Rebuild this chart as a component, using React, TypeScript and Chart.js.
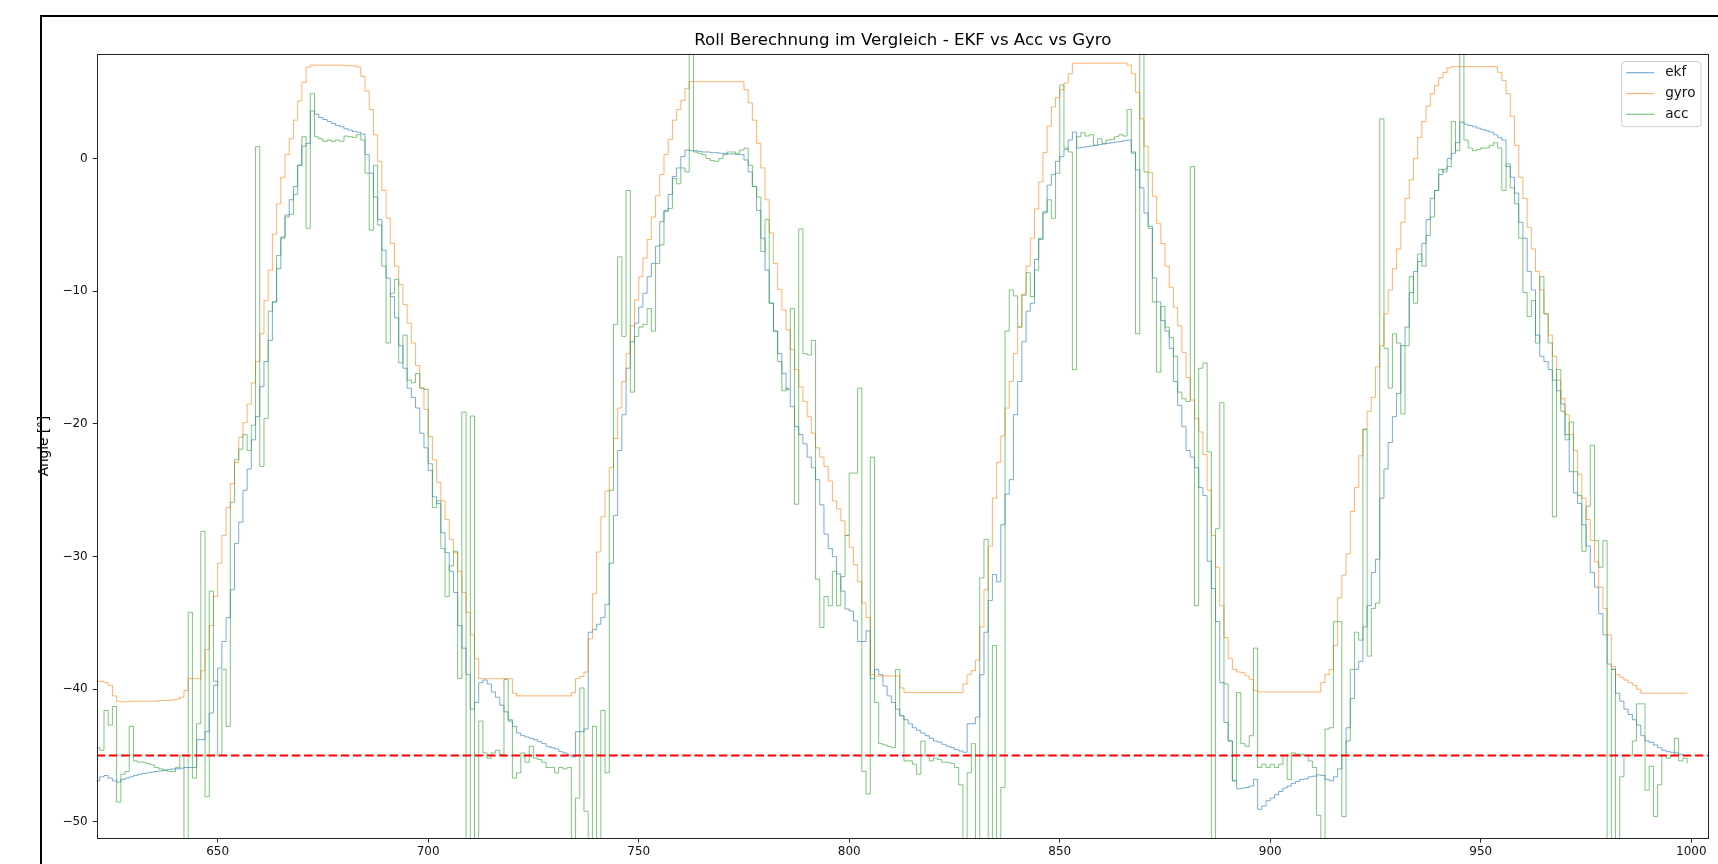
import React, { useEffect, useRef } from "react";
import { Chart, registerables } from "chart.js";

Chart.register(...registerables);

const START_INDEX = 621;
const X_MIN = 621.27;
const X_MAX = 1004.2;
const Y_MIN = -51.25;
const Y_MAX = 7.91;
const THRESHOLD = -45;
const X_TICKS = [650, 700, 750, 800, 850, 900, 950, 1000];
const Y_TICKS = [-50, -40, -30, -20, -10, 0];
const TITLE = "Roll Berechnung im Vergleich - EKF vs Acc vs Gyro";
const Y_LABEL = "Angle [°]";
const SERIES_LABELS = ["ekf", "gyro", "acc"];
const SERIES_COLORS = ["rgba(31,119,180,0.6)", "rgba(255,127,14,0.6)", "rgba(44,160,44,0.6)"];

const EKF = [
  -46.9,-46.6,-46.5,-46.7,-46.9,-47.0,-46.8,-46.7,-46.6,-46.5,
  -46.4,-46.35,-46.3,-46.25,-46.2,-46.15,-46.1,-46.05,-46.0,-46.0,
  -45.95,-45.9,-45.9,-45.9,-43.8,-43.8,-43.2,-41.8,-39.7,-38.4,
  -36.4,-34.6,-32.5,-29.0,-27.4,-25.0,-23.4,-21.2,-19.45,-17.2,
  -15.3,-13.7,-10.8,-8.3,-5.9,-4.25,-3.1,-2.1,-0.5,0.95,
  1.15,3.6,3.35,3.1,2.95,2.8,2.65,2.5,2.4,2.25,
  2.15,2.05,2.0,1.85,0.3,-1.1,-2.9,-4.6,-6.9,-9.0,
  -10.4,-12.0,-14.1,-15.8,-17.3,-18.0,-18.8,-20.7,-21.8,-23.5,
  -25.5,-26.0,-28.2,-29.7,-31.1,-32.7,-35.2,-36.9,-38.9,-41.5,
  -41.0,-39.5,-39.3,-39.6,-40.2,-40.6,-41.2,-41.7,-42.4,-42.8,
  -43.3,-43.5,-43.6,-43.7,-43.8,-43.95,-44.1,-44.3,-44.4,-44.5,
  -44.7,-44.8,-44.95,-45.1,-43.2,-43.2,-43.0,-35.7,-35.5,-35.1,
  -34.6,-33.6,-30.5,-26.9,-22.0,-19.3,-15.8,-13.8,-12.4,-11.2,
  -10.15,-8.9,-7.9,-6.6,-4.75,-3.9,-2.7,-1.35,-0.7,0.15,
  0.65,0.6,0.6,0.55,0.5,0.5,0.45,0.45,0.4,0.4,
  0.35,0.35,0.3,0.3,-0.1,-1.0,-2.1,-3.9,-6.0,-8.4,
  -10.9,-13.0,-14.7,-16.2,-17.4,-18.7,-20.2,-20.8,-21.5,-22.5,
  -23.3,-24.2,-26.1,-28.3,-29.4,-30.0,-31.3,-32.6,-33.95,-34.1,
  -34.85,-36.4,-36.4,-35.6,-39.2,-38.5,-38.9,-39.75,-40.5,-41.0,
  -41.5,-42.0,-42.3,-42.6,-42.9,-43.1,-43.3,-43.5,-43.7,-43.9,
  -44.0,-44.15,-44.3,-44.4,-44.55,-44.65,-44.75,-42.6,-42.6,-42.1,
  -38.9,-35.7,-33.3,-31.35,-31.9,-27.6,-25.3,-24.2,-19.3,-16.8,
  -13.8,-11.5,-10.9,-7.6,-6.0,-4.0,-2.0,-1.2,-0.2,0.15,
  0.7,1.4,2.0,0.8,0.85,0.9,0.95,1.0,1.05,1.1,
  1.15,1.2,1.25,1.3,1.35,1.4,0.5,-0.85,-2.2,-4.1,
  -5.1,-9.0,-10.8,-12.2,-13.0,-14.3,-16.8,-18.6,-20.2,-22.0,
  -22.5,-23.3,-24.8,-25.4,-30.35,-32.4,-34.9,-39.5,-42.5,-43.9,
  -46.9,-47.5,-47.45,-47.4,-47.3,-46.8,-49.05,-48.8,-48.4,-48.2,
  -47.95,-47.7,-47.45,-47.3,-47.1,-46.95,-46.8,-46.75,-46.6,-46.55,
  -46.45,-46.5,-46.8,-46.9,-46.6,-46.0,-45.0,-42.9,-40.7,-38.5,
  -37.9,-35.3,-33.7,-31.2,-30.2,-25.6,-23.4,-21.4,-19.45,-17.7,
  -14.1,-12.7,-10.1,-8.5,-7.75,-6.4,-4.6,-3.0,-2.4,-1.2,
  -0.8,0.0,0.4,1.2,2.76,2.6,2.5,2.4,2.3,2.2,
  2.1,2.0,1.8,1.6,1.4,-0.6,-1.4,-2.6,-4.8,-6.0,
  -8.5,-9.9,-13.3,-14.9,-15.3,-15.9,-16.7,-17.5,-18.5,-20.8,
  -23.6,-25.2,-26.0,-27.6,-29.2,-31.2,-32.3,-34.3,-35.9,-38.1,
  -38.5,-40.3,-40.9,-41.5,-41.9,-42.3,-42.7,-43.5,-43.9,-44.0,
  -44.2,-44.4,-44.6,-44.7,-44.75,-44.8,-44.9,-45.0,-45.1,
];

const GYRO = [
  -39.4,-39.4,-39.5,-39.7,-40.5,-40.9,-40.95,-40.95,-40.9,-40.9,
  -40.9,-40.9,-40.9,-40.9,-40.9,-40.85,-40.85,-40.85,-40.8,-40.75,
  -40.6,-40.1,-39.2,-39.2,-39.2,-38.6,-37.0,-35.2,-33.0,-30.5,
  -28.4,-26.3,-24.5,-22.9,-21.0,-19.9,-18.5,-16.9,-15.3,-13.2,
  -10.7,-8.4,-5.7,-3.4,-1.4,0.3,1.5,2.9,4.35,5.75,
  6.9,7.05,7.05,7.05,7.05,7.05,7.05,7.05,7.05,7.0,
  7.0,7.0,6.9,6.2,5.1,3.7,1.8,-0.2,-2.4,-4.5,
  -6.4,-8.1,-9.5,-11.0,-12.4,-13.9,-15.6,-17.3,-18.9,-20.95,
  -22.7,-24.4,-25.8,-27.2,-28.7,-29.7,-31.1,-32.7,-34.2,-35.9,
  -37.7,-39.2,-39.2,-39.2,-39.2,-39.2,-39.2,-39.2,-39.2,-40.3,
  -40.5,-40.5,-40.5,-40.5,-40.5,-40.5,-40.5,-40.5,-40.5,-40.5,
  -40.5,-40.5,-40.5,-40.25,-39.2,-39.05,-38.7,-36.2,-32.8,-29.65,
  -27.0,-25.05,-23.3,-21.1,-18.8,-16.8,-14.7,-12.6,-10.65,-8.9,
  -7.5,-6.1,-4.4,-2.8,-1.2,0.3,1.45,2.9,3.7,4.4,
  5.3,5.8,5.8,5.8,5.8,5.8,5.8,5.8,5.8,5.8,
  5.8,5.8,5.8,5.8,5.2,4.2,2.9,1.15,-0.7,-3.1,
  -5.6,-7.9,-9.85,-11.4,-12.9,-14.4,-15.9,-17.2,-18.3,-19.45,
  -20.7,-21.8,-22.5,-23.2,-24.3,-25.8,-26.4,-27.3,-28.4,-29.3,
  -30.6,-31.9,-33.5,-34.6,-38.9,-39.0,-39.0,-39.0,-39.0,-39.0,
  -39.0,-39.9,-40.25,-40.25,-40.25,-40.25,-40.25,-40.25,-40.25,-40.25,
  -40.25,-40.25,-40.25,-40.25,-40.25,-40.25,-39.6,-38.9,-38.6,-37.8,
  -35.3,-32.5,-29.2,-25.6,-22.9,-20.9,-18.8,-16.8,-14.7,-12.7,
  -10.2,-8.1,-6.0,-3.8,-1.75,0.45,2.45,3.9,4.6,5.2,
  5.7,6.4,7.2,7.2,7.2,7.2,7.2,7.2,7.2,7.2,
  7.2,7.2,7.2,7.2,7.2,7.05,6.4,5.0,3.0,0.95,
  -1.05,-2.85,-4.9,-6.4,-8.1,-9.7,-11.2,-12.6,-14.6,-16.5,
  -18.2,-19.6,-20.6,-22.3,-25.0,-28.4,-30.8,-33.7,-36.1,-37.7,
  -38.5,-38.7,-38.75,-39.0,-39.25,-40.1,-40.2,-40.2,-40.2,-40.2,
  -40.2,-40.2,-40.2,-40.2,-40.2,-40.2,-40.2,-40.2,-40.2,-40.2,
  -40.2,-39.5,-38.9,-38.5,-36.7,-33.1,-31.4,-29.8,-26.6,-24.8,
  -22.4,-20.4,-19.05,-18.0,-15.7,-14.1,-11.7,-9.9,-8.3,-6.8,
  -4.8,-3.0,-1.6,0.0,1.6,2.8,3.95,4.9,5.5,6.1,
  6.5,6.85,6.93,6.93,6.93,6.93,6.93,6.93,6.93,6.93,
  6.93,6.93,6.93,6.5,5.9,4.9,3.2,1.0,-1.4,-3.0,
  -5.2,-6.8,-8.5,-9.9,-11.7,-13.3,-14.9,-16.7,-18.1,-19.3,
  -20.8,-22.0,-23.8,-25.6,-27.2,-28.8,-30.4,-32.3,-33.9,-35.9,
  -38.3,-38.9,-39.1,-39.3,-39.5,-39.7,-40.0,-40.3,-40.3,-40.3,
  -40.3,-40.3,-40.3,-40.3,-40.3,-40.3,-40.3,-40.3,-40.3,
];

const ACC = [
  -44.4,-44.6,-41.6,-42.7,-41.3,-48.5,-46.4,-46.2,-42.8,-45.4,
  -45.5,-45.5,-45.6,-45.7,-45.9,-46.0,-46.1,-46.2,-46.2,-45.9,
  -45.0,-55.0,-34.2,-46.7,-42.6,-28.1,-48.1,-32.6,-39.4,-45.0,
  -38.5,-42.8,-25.9,-22.7,-21.9,-20.8,-22.0,-20.1,0.9,-23.2,
  -19.6,-11.5,-10.8,-7.3,-6.0,-4.4,-4.2,-2.7,-0.5,1.65,
  -5.25,4.9,1.65,1.5,1.3,1.4,1.3,1.4,1.3,1.7,
  1.65,1.6,1.8,1.4,-1.1,-5.4,-0.5,-5.0,-8.1,-13.9,
  -10.15,-9.1,-15.4,-13.3,-16.7,-16.9,-16.2,-17.3,-17.4,-23.0,
  -26.3,-25.8,-29.4,-33.0,-30.7,-29.6,-39.2,-19.1,-55.0,-19.4,
  -55.0,-42.4,-44.8,-45.2,-44.8,-44.6,-44.9,-39.25,-42.3,-46.7,
  -46.3,-44.8,-45.5,-44.3,-45.2,-45.3,-45.5,-45.9,-45.9,-46.3,
  -45.9,-46.0,-45.9,-55.0,-48.2,-39.9,-49.2,-55.0,-42.8,-55.0,
  -41.6,-46.3,-25.0,-12.5,-7.4,-13.4,-2.4,-17.6,-13.4,-12.7,
  -12.5,-11.3,-13.0,-7.9,-6.5,-4.0,-3.75,-1.5,-1.9,-0.7,
  -1.0,8.5,0.5,0.4,0.3,0.0,-0.15,-0.2,0.0,0.3,
  0.5,0.5,0.4,0.65,0.8,-0.5,-2.1,-2.9,-7.0,-4.6,
  -10.9,-13.0,-15.3,-17.5,-17.3,-11.3,-26.05,-5.3,-14.7,-14.8,
  -13.7,-31.7,-35.35,-33.0,-33.7,-31.1,-33.7,-31.5,-28.4,-23.7,
  -23.7,-17.3,-46.2,-47.9,-22.5,-41.0,-44.1,-44.2,-44.3,-44.4,
  -38.5,-42.0,-45.4,-45.4,-45.65,-46.4,-43.9,-45.0,-45.4,-45.2,
  -45.3,-45.5,-45.5,-45.6,-45.9,-47.2,-55.0,-46.3,-44.1,-55.0,
  -31.6,-28.7,-55.0,-36.7,-55.0,-47.4,-13.0,-9.9,-10.35,-12.7,
  -10.3,-8.6,-10.4,-8.4,-6.1,-4.1,-3.1,-4.5,-1.1,5.55,
  0.8,0.5,-15.9,1.65,1.95,1.7,1.8,1.0,1.5,1.15,
  1.4,1.45,1.65,1.8,1.7,3.7,0.4,-13.2,8.5,-1.0,
  -5.25,-10.8,-16.1,-11.15,-12.7,-13.5,-14.9,-17.6,-18.1,-18.3,
  -0.6,-33.7,-15.8,-15.4,-22.1,-55.0,-27.9,-18.4,-39.6,-43.9,
  -46.9,-40.25,-44.1,-44.3,-43.5,-36.9,-45.9,-45.65,-45.9,-45.65,
  -45.9,-45.65,-45.0,-46.8,-44.8,-44.9,-44.9,-45.0,-45.4,-45.9,
  -49.5,-55.0,-43.0,-42.9,-34.9,-34.9,-49.6,-43.9,-38.5,-35.7,
  -36.3,-20.4,-37.5,-33.9,-33.5,3.0,-14.3,-17.3,-13.2,-13.9,
  -19.25,-14.1,-8.9,-10.9,-7.2,-8.1,-5.8,-4.4,-2.4,-0.8,
  -1.0,-0.6,2.8,0.6,8.5,1.4,0.8,0.6,0.7,0.8,
  0.8,1.0,1.2,0.8,-2.4,-0.4,-2.2,-3.4,-6.0,-10.1,
  -11.9,-10.7,-13.9,-8.9,-11.7,-13.9,-27.0,-15.9,-19.05,-21.2,
  -19.85,-23.6,-25.4,-29.6,-26.2,-21.6,-28.8,-30.8,-28.8,-55.0,
  -38.5,-55.0,-46.6,-45.0,-45.0,-43.9,-41.1,-41.1,-47.6,-45.8,
  -49.6,-47.2,-45.0,-45.2,-45.0,-43.7,-45.4,-45.2,-45.6,
];

const FONT = '"DejaVu Sans", sans-serif';
const TEXT_COLOR = "#111";
const SPINE_COLOR = "#262626";
const TICK_FONT_SIZE = 12;
const LABEL_FONT_SIZE = 13.6;
const TITLE_FONT_SIZE = 16.6;

const toPoints = (values: number[]) => values.map((y, i) => ({ x: START_INDEX + i, y }));
const fmtTick = (v: number) => (v < 0 ? "\u2212" + Math.abs(v) : String(v));

const decorPlugin = {
  id: "decor",
  afterDatasetsDraw(chart: any) {
    const { ctx, chartArea: a } = chart;
    ctx.save();
    // spines
    ctx.strokeStyle = SPINE_COLOR;
    ctx.lineWidth = 1;
    ctx.strokeRect(Math.round(a.left) + 0.5, Math.round(a.top) + 0.5, Math.round(a.right - a.left) - 1, Math.round(a.bottom - a.top) - 1);
    // title
    ctx.fillStyle = "#000";
    ctx.font = `${TITLE_FONT_SIZE}px ${FONT}`;
    ctx.textAlign = "center";
    ctx.textBaseline = "middle";
    ctx.fillText(TITLE, (a.left + a.right) / 2, 40.5);
    // y label
    ctx.save();
    ctx.translate(44, (a.top + a.bottom) / 2);
    ctx.rotate(-Math.PI / 2);
    ctx.font = `${LABEL_FONT_SIZE}px ${FONT}`;
    ctx.fillText(Y_LABEL, 0, 0);
    ctx.restore();
    // legend
    const lw = 79.3, lh = 65;
    const lx = a.right - 8 - lw, ly = a.top + 8;
    ctx.beginPath();
    const r = 3;
    ctx.moveTo(lx + r, ly);
    ctx.lineTo(lx + lw - r, ly);
    ctx.arcTo(lx + lw, ly, lx + lw, ly + r, r);
    ctx.lineTo(lx + lw, ly + lh - r);
    ctx.arcTo(lx + lw, ly + lh, lx + lw - r, ly + lh, r);
    ctx.lineTo(lx + r, ly + lh);
    ctx.arcTo(lx, ly + lh, lx, ly + lh - r, r);
    ctx.lineTo(lx, ly + r);
    ctx.arcTo(lx, ly, lx + r, ly, r);
    ctx.closePath();
    ctx.fillStyle = "rgba(255,255,255,0.8)";
    ctx.fill();
    ctx.strokeStyle = "#cccccc";
    ctx.lineWidth = 1;
    ctx.stroke();
    const ds = chart.data.datasets.slice(0, SERIES_LABELS.length);
    ds.forEach((d: any, i: number) => {
      const yy = ly + 11 + i * 20.8;
      ctx.strokeStyle = d.borderColor;
      ctx.lineWidth = 1.2;
      ctx.beginPath();
      ctx.moveTo(lx + 4.5, yy);
      ctx.lineTo(lx + 32.5, yy);
      ctx.stroke();
      ctx.fillStyle = TEXT_COLOR;
      ctx.font = `${LABEL_FONT_SIZE}px ${FONT}`;
      ctx.textAlign = "left";
      ctx.textBaseline = "middle";
      ctx.fillText(d.label, lx + 43.5, yy);
    });
    ctx.restore();
  },
};

export default function App() {
  const ref = useRef<HTMLCanvasElement>(null);
  useEffect(() => {
    document.body.style.margin = "0";
    const canvas = ref.current!;
    const series = [EKF, GYRO, ACC];
    const datasets: any[] = series.map((vals, i) => ({
      label: SERIES_LABELS[i],
      data: toPoints(vals),
      borderColor: SERIES_COLORS[i],
      backgroundColor: SERIES_COLORS[i],
      borderWidth: 1,
      pointRadius: 0,
      stepped: "before",
      fill: false,
      clip: 0,
      order: series.length + 1 - i,
    }));
    datasets.push({
      label: "threshold",
      data: [
        { x: X_MIN, y: THRESHOLD },
        { x: X_MAX, y: THRESHOLD },
      ],
      borderColor: "#ff0000",
      borderWidth: 2,
      borderDash: [8.5, 3.7],
      pointRadius: 0,
      fill: false,
      clip: 0,
      order: 0,
    });
    const chart = new Chart(canvas, {
      type: "line",
      data: { datasets },
      options: {
        animation: false,
        responsive: false,
        devicePixelRatio: 1,
        events: [],
        layout: { padding: { left: 0, top: 53.7, right: 9, bottom: 0 } },
        plugins: { legend: { display: false }, title: { display: false }, tooltip: { enabled: false } },
        scales: {
          x: {
            type: "linear",
            min: X_MIN,
            max: X_MAX,
            afterBuildTicks: (s: any) => {
              s.ticks = X_TICKS.map((v) => ({ value: v }));
            },
            afterFit: (s: any) => {
              s.height = 25.5;
            },
            ticks: {
              font: { family: FONT, size: TICK_FONT_SIZE },
              color: TEXT_COLOR,
              padding: 2,
              maxRotation: 0,
              autoSkip: false,
              callback: (v: any) => fmtTick(Number(v)),
            },
            grid: { display: true, drawOnChartArea: false, drawTicks: true, tickLength: 4, color: SPINE_COLOR, lineWidth: 1 },
            border: { display: false },
          },
          y: {
            type: "linear",
            min: Y_MIN,
            max: Y_MAX,
            afterBuildTicks: (s: any) => {
              s.ticks = Y_TICKS.map((v) => ({ value: v }));
            },
            afterFit: (s: any) => {
              s.width = 96.7;
            },
            ticks: {
              font: { family: FONT, size: TICK_FONT_SIZE },
              color: TEXT_COLOR,
              padding: 5,
              autoSkip: false,
              callback: (v: any) => fmtTick(Number(v)),
            },
            grid: { display: true, drawOnChartArea: false, drawTicks: true, tickLength: 4, color: SPINE_COLOR, lineWidth: 1 },
            border: { display: false },
          },
        },
      },
      plugins: [decorPlugin],
    });
    return () => chart.destroy();
  }, []);
  return (
    <div style={{ position: "relative", width: 1718, height: 864, overflow: "hidden", background: "#fff" }}>
      <canvas ref={ref} width={1718} height={864} style={{ position: "absolute", left: 0, top: 0 }} />
      <div
        style={{
          position: "absolute",
          left: 40,
          top: 15,
          width: 1700,
          height: 900,
          borderLeft: "2px solid #000",
          borderTop: "2px solid #000",
        }}
      />
    </div>
  );
}
